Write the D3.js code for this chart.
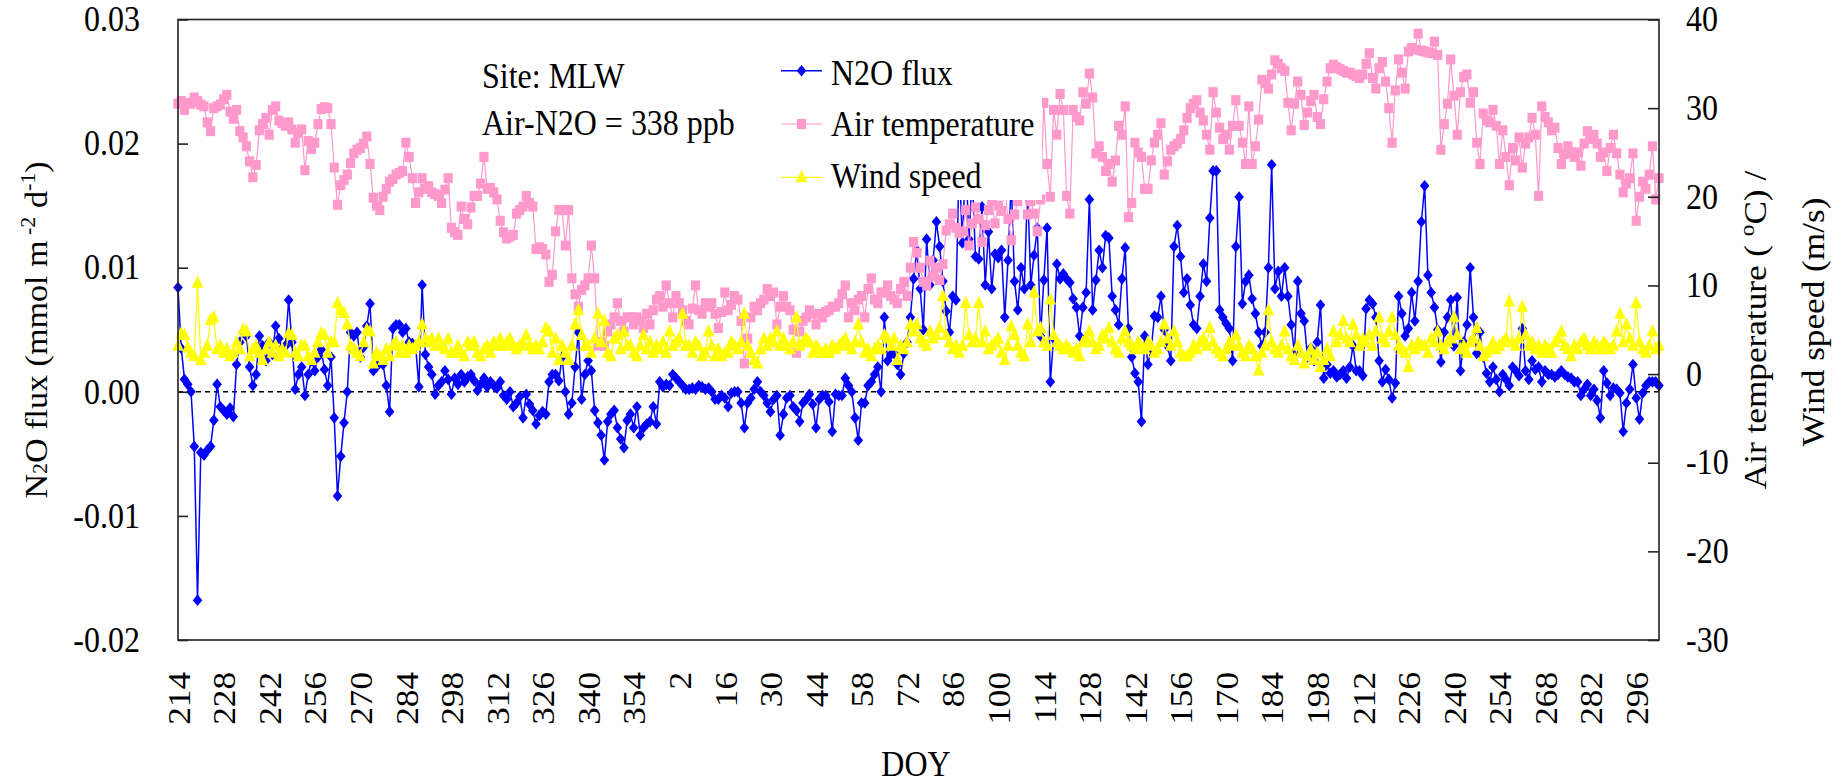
<!DOCTYPE html>
<html>
<head>
<meta charset="utf-8">
<script src="https://cdn.jsdelivr.net/npm/d3@7"></script>
<style>
  html, body { margin: 0; padding: 0; background: #fff; }
  svg { display: block; }
  svg text { font-family: "Liberation Serif", "Times New Roman", serif; }
</style>
</head>
<body>
<svg id="chart" width="1840" height="784"></svg>
<script>
// Day-of-year categories: DOY 214-366 of the first (leap) year, then DOY 1-303 of the next
const doyYear1 = d3.range(214, 367);
const doyYear2 = d3.range(1, 304);
const doy = doyYear1.concat(doyYear2);

// N2O flux (mmol m-2 d-1), one value per day
const n2oFlux = [
  0.0084,0.0035,0.001,0.0006,0,-0.0044,-0.0168,-0.0049,-0.0051,-0.0047,
  -0.0044,-0.0023,0.0006,-0.0012,-0.0015,-0.0018,-0.0013,-0.002,0.0022,0.004,
  0.0048,0.0045,0.002,0.0005,0.0014,0.0045,0.0037,0.0025,0.004,0.003,
  0.0053,0.0043,0.0035,0.0037,0.0074,0.004,0.0002,0.0014,0.002,-0.0003,
  0.0014,0.0025,0.0017,0.0028,0.0034,0.0018,0.0005,0.0028,-0.0021,-0.0084,
  -0.0052,-0.0025,0,0.0048,0.0045,0.0048,0.0028,0.0036,0.0053,0.0071,
  0.0017,0.002,0.0025,0.0022,0.0005,-0.0016,0.0051,0.0054,0.0054,0.0048,
  0.0051,0.004,0.0039,0.0037,0.0004,0.0086,0.003,0.002,0.0014,-0.0002,
  0.0005,0.0008,0.0017,0.001,-0.0002,0.0011,0.0006,0.0014,0.0008,0.0012,
  0.0014,0.0009,0.0001,0.0006,0.0011,0.0004,0.0008,0.0005,0.0003,0.0008,
  -0.0003,-0.0006,0,-0.0012,-0.0009,-0.0004,-0.0021,-0.0002,-0.001,-0.0015,
  -0.0026,-0.0019,-0.0016,-0.0018,0.0008,0.0014,0.0014,0.0009,0.0028,0,
  -0.0018,-0.0009,0.002,0.0048,-0.0006,0.0014,0.0025,0.0017,-0.0015,-0.0025,
  -0.0035,-0.0055,-0.0024,-0.0018,-0.0015,-0.0029,-0.0038,-0.0045,-0.0023,-0.0018,
  -0.0029,-0.0012,-0.0035,-0.0029,-0.0026,-0.0024,-0.0012,-0.0026,0.0008,0.0004,
  0.0006,0.0005,0.0014,0.0011,0.0008,0.0005,0.0002,0.0002,0.0003,0.0002,
  0.0005,0.0004,0.0002,0.0003,0,-0.0006,-0.0006,-0.0003,-0.0005,-0.0012,
  -0.0001,0,0,-0.0009,-0.0029,-0.0009,-0.0005,0.0002,0.0008,0,
  -0.0003,-0.0009,-0.0016,-0.0006,-0.0003,-0.0035,-0.0018,-0.0005,-0.0003,-0.0012,
  -0.0015,-0.0024,-0.0009,-0.0006,-0.0002,-0.001,-0.0029,-0.0006,-0.0003,-0.0003,
  -0.0008,-0.0032,-0.0002,-0.0003,-0.0003,0.0011,0.0005,0,-0.0021,-0.0039,
  -0.0009,-0.0009,0.0005,0.0008,0.0014,0.002,0,0.006,0.0025,0.003,
  0.0031,0.0022,0.0014,0.0031,0.004,0.006,0.0091,0.0114,0.0083,0.005,
  0.0123,0.0086,0.0106,0.0137,0.0117,0.0089,0.0065,0.0048,0.0077,0.0074,
  0.0185,0.012,0.019,0.0123,0.0175,0.0109,0.0107,0.0149,0.0086,0.0129,
  0.0083,0.0111,0.0108,0.0114,0.006,0.0106,0.017,0.0089,0.0066,0.01,
  0.0083,0.0165,0.0086,0.011,0.0132,0.0045,0.009,0.0132,0.0008,0.0043,
  0.0103,0.0091,0.0095,0.0091,0.0088,0.0075,0.0068,0.0045,0.0068,0.008,
  0.0155,0.0066,0.009,0.0114,0.01,0.0126,0.0124,0.0077,0.0066,0.0054,
  0.0091,0.0116,0.0051,0.0028,0.0015,0.0008,-0.0024,0.0045,0.0022,0.0035,
  0.0061,0.006,0.0077,0.005,0.0037,0.0025,0.0117,0.0134,0.0109,0.008,
  0.0091,0.007,0.0054,0.0051,0.0077,0.0103,0.0089,0.014,0.0178,0.0178,
  0.0066,0.006,0.0055,0.0051,0.0025,0.0117,0.0157,0.0071,0.0089,0.0094,
  0.0075,0.0063,0.0048,0.0037,0.0048,0.01,0.0183,0.0083,0.0097,0.0077,
  0.01,0.0077,0.0054,0.0031,0.0089,0.0063,0.0057,0.0028,0.0035,0.0025,
  0.004,0.007,0.0011,0.0022,0.0015,0.0017,0.0012,0.0014,0.0017,0.0011,
  0.002,0.0037,0.0017,0.0017,0.0013,0.0067,0.0074,0.0071,0.006,0.0025,
  0.0008,0.0018,0.001,-0.0005,0.0007,0.0077,0.0063,0.0045,0.0051,0.008,
  0.0057,0.0089,0.0137,0.0166,0.0094,0.008,0.0068,0.005,0.0024,0.0048,
  0.006,0.0074,0.0037,0.0076,0.0017,0.004,0.0054,0.01,0.006,0.0031,
  0.0048,0.0028,0.0015,0.0008,0.002,0.001,0,0.0014,0.001,0.0005,
  0.002,0.0017,0.0013,0.0051,0.0017,0.001,0.0025,0.0018,0.002,0.0008,
  0.0017,0.0014,0.0014,0.0012,0.0014,0.0017,0.0014,0.0012,0.0011,0.0008,
  0.0008,-0.0003,0.0002,0.0006,-0.0003,0.0002,-0.0007,-0.0021,0.0017,0.0007,
  -0.0003,0.0003,0.0002,-0.0001,-0.0032,-0.0009,0.0002,0.0022,-0.0005,-0.0022,
  -0.0001,0.0005,0.0008,0.0008,0.0008,0.0005
];

// Daily mean air temperature (deg C)
const airTemp = [
  30.5,30.8,29.8,30.6,30.5,31.2,30.8,30.4,30.2,28.4,
  27.4,30.0,30.2,30.4,31.0,31.5,29.6,28.8,29.8,27.4,
  26.7,25.7,24.0,22.2,23.6,27.5,28.2,28.9,27.0,29.8,
  30.2,28.6,28.3,28.0,28.4,27.6,26.1,27.2,27.6,23.0,
  26.3,25.4,26.1,28.2,29.9,30.1,30.0,28.2,23.3,19.1,
  21.3,21.9,22.5,23.8,24.9,25.3,25.5,26.0,26.8,23.7,
  19.9,19.0,18.5,20.0,20.9,21.7,22.0,22.5,22.7,22.9,
  26.1,24.5,22.1,19.3,20.5,22.1,20.9,21.2,20.5,20.3,
  20.1,19.3,20.8,22.1,16.5,16.0,15.7,18.9,17.5,16.9,
  18.8,20.1,20.1,21.5,24.5,20.9,21.0,20.5,19.7,17.3,
  16.0,15.3,15.5,15.7,18.1,18.5,18.9,20.1,19.3,18.9,
  14.1,14.3,14.1,13.5,10.4,11.2,16.1,18.5,18.5,14.5,
  18.5,10.8,9.0,7.6,9.5,10.0,10.8,14.5,10.8,3.2,
  3.6,3.2,4.8,5.6,6.4,8.0,6.0,4.8,6.4,6.4,
  5.6,6.4,6.0,5.2,6.8,5.6,7.2,8.4,8.8,7.6,
  10.0,8.0,6.4,8.8,8.0,7.2,6.0,5.6,7.4,10.0,
  7.2,6.8,8.0,7.6,8.0,6.8,5.2,7.0,9.2,7.2,
  7.8,8.8,8.4,6.0,1.2,4.0,6.4,7.6,7.2,8.0,
  8.4,9.6,8.8,9.2,5.6,7.6,8.8,7.6,7.2,5.0,
  2.4,4.8,6.0,6.4,7.2,6.8,5.6,6.8,6.4,7.0,
  7.2,7.6,7.6,8.0,9.0,10.0,6.4,8.0,7.2,8.4,
  8.8,6.4,9.6,10.8,8.4,8.0,9.2,9.2,10.0,8.8,
  8.4,8.0,9.6,10.4,8.8,12.0,14.9,13.7,12.0,10.4,
  10.0,12.8,11.0,12.0,10.6,12.4,16.2,16.9,18.1,16.5,
  15.9,16.1,18.5,14.5,17.0,18.8,17.5,14.9,16.8,18.5,
  19.5,17.0,19.0,18.4,21.0,17.5,15.1,18.0,19.5,22.0,
  20.5,18.0,19.5,18.1,16.1,19.7,30.6,23.7,20.0,29.8,
  27.0,31.6,29.8,20.1,18.1,29.8,29.0,28.6,31.8,30.5,
  33.9,31.2,24.9,25.7,24.5,22.9,23.7,21.7,24.1,28.0,
  27.0,30.2,17.7,19.3,26.1,25.0,24.5,20.9,20.9,24.1,
  26.1,27.0,28.3,22.5,24.0,25.3,25.7,26.0,26.5,27.5,
  28.9,30.0,30.5,30.9,29.5,28.6,27.0,25.3,31.8,29.5,
  27.8,26.5,27.0,25.3,28.0,30.9,28.0,26.1,23.7,30.2,
  23.7,25.7,28.7,33.2,32.8,32.2,33.8,35.4,35.0,34.5,
  34.2,30.6,27.5,30.5,33.0,31.5,28.1,29.5,30.8,31.5,
  29.0,28.2,31.0,33.0,34.5,34.9,34.6,34.4,34.2,34.0,
  34.0,33.8,33.6,33.4,33.8,35.0,36.2,33.4,32.2,34.5,
  35.2,33.0,30.0,26.1,32.0,35.5,34.0,32.2,36.4,36.8,
  36.6,38.4,36.5,36.4,36.3,36.2,37.5,36.0,25.3,28.2,
  30.5,35.5,31.4,27.0,31.8,33.5,33.8,30.6,31.8,26.1,
  23.7,29.4,28.6,28.4,29.8,28.0,23.7,27.5,24.5,21.3,
  25.5,24.1,26.7,23.3,26.0,26.7,28.9,27.0,20.1,30.2,
  29.0,28.4,27.5,27.8,25.5,23.7,24.8,25.7,25.0,24.5,
  25.0,23.5,26.0,27.4,26.5,27.0,26.0,24.5,25.0,22.9,
  25.5,27.0,24.9,22.5,20.5,21.5,22.1,24.9,17.3,20.0,
  21.7,20.9,22.5,25.7,19.7,22.1
];

// Daily mean wind speed (m/s)
const windSpeed = [
  3.2,4.6,4.4,3.0,2.4,2.0,10.3,1.6,2.4,3.2,
  6.1,6.4,2.8,3.2,2.4,2.8,2.0,2.4,3.6,2.8,
  5.0,4.8,2.0,2.8,3.2,2.4,1.6,2.8,3.6,2.4,
  3.2,2.0,2.8,2.4,4.6,4.4,2.4,2.0,3.2,3.2,
  2.0,1.6,2.4,3.6,4.6,4.4,2.4,3.6,3.6,8.0,
  7.2,6.9,5.6,3.2,2.8,2.4,2.0,3.6,5.0,4.8,
  1.2,2.4,2.0,1.6,2.8,2.0,3.2,3.6,2.4,3.2,
  2.4,3.2,2.8,3.2,3.6,5.6,4.0,3.6,4.0,3.2,
  4.0,3.2,2.8,4.0,2.4,2.4,3.2,2.4,2.0,3.6,
  3.2,3.6,2.4,2.0,2.8,3.2,2.4,3.6,3.2,4.0,
  3.2,3.6,4.0,3.2,2.8,3.2,3.6,4.4,3.2,2.8,
  3.2,2.8,3.6,5.2,4.8,2.4,4.0,1.6,3.2,2.4,
  1.6,3.2,5.6,7.2,4.4,3.2,3.2,2.4,4.0,6.8,
  3.6,6.0,2.4,2.0,4.0,4.4,2.8,4.8,3.2,3.2,
  2.4,2.0,3.2,4.4,2.8,3.6,2.4,3.2,2.8,3.6,
  2.4,4.8,3.2,3.6,4.0,6.8,3.2,3.2,2.4,3.6,
  3.2,2.0,2.4,4.8,3.2,2.0,2.8,2.0,2.4,2.4,
  3.6,3.2,2.8,3.6,6.8,3.2,2.4,1.6,1.2,2.8,
  4.0,3.2,4.0,3.6,4.8,3.2,4.0,3.2,2.8,3.6,
  6.4,3.2,3.6,4.0,3.6,2.4,3.2,2.8,2.4,2.8,
  2.4,3.2,2.8,3.2,3.6,4.0,3.2,2.8,3.6,5.6,
  3.6,2.4,2.8,2.0,2.8,3.2,2.8,4.4,4.0,3.2,
  4.0,1.6,3.2,2.8,3.6,5.6,4.8,5.6,4.0,3.6,
  3.2,4.8,4.0,4.4,5.2,8.8,4.4,3.6,2.8,3.2,
  2.4,3.2,8.0,4.4,3.6,4.0,8.0,3.6,4.8,2.8,
  3.2,3.6,4.0,2.4,1.6,3.2,5.4,4.4,3.2,2.4,
  2.0,5.6,3.6,9.2,4.8,5.2,3.6,3.2,8.4,4.4,
  3.6,3.2,2.8,3.2,2.8,2.4,2.8,2.0,3.6,4.0,
  4.8,3.6,2.8,3.2,4.4,4.0,5.2,3.6,2.8,2.4,
  4.0,4.8,3.6,3.2,2.8,3.6,3.2,2.8,3.6,3.2,
  2.4,2.8,3.6,5.6,4.0,3.2,4.8,3.6,2.4,2.0,
  2.0,2.4,3.2,2.8,3.6,4.0,3.2,5.2,3.6,2.8,
  2.4,2.0,2.8,3.6,3.2,4.4,3.2,2.4,2.0,3.2,
  2.8,2.0,0.4,2.4,3.2,7.2,3.6,2.8,2.4,3.2,
  4.8,2.8,2.0,1.6,3.2,2.4,1.2,2.0,2.8,1.6,
  2.4,0.8,1.6,2.8,2.0,4.8,3.6,4.4,6.0,4.0,
  3.6,5.6,4.4,3.2,4.0,3.6,4.4,3.2,4.8,6.4,
  4.0,3.6,4.8,6.4,4.4,3.2,2.8,2.4,0.8,3.2,
  2.8,3.6,3.2,3.2,2.4,4.0,3.6,4.8,3.2,2.8,
  3.6,4.0,6.4,4.4,2.8,3.2,2.4,3.6,4.0,5.2,
  3.2,2.0,2.4,2.8,3.6,2.8,3.2,3.6,4.0,8.2,
  3.6,3.2,4.0,7.6,4.4,3.2,3.6,2.8,3.2,2.4,
  3.2,2.8,2.4,3.6,4.0,4.8,3.2,2.8,2.0,3.2,
  2.8,3.6,4.0,3.2,2.8,3.6,3.2,2.8,3.6,3.2,
  2.8,3.2,4.8,6.8,3.6,5.6,4.0,3.2,8.0,3.6,
  2.8,2.4,3.2,4.8,2.8,3.2
];

// Axis ticks
const fluxTicks = [-0.02, -0.01, 0, 0.01, 0.02, 0.03];
const metTicks = [-30, -20, -10, 0, 10, 20, 30, 40];
const doyLabelStep = 14;

// Legend entries
const seriesNames = ["N2O flux", "Air temperature", "Wind speed"];
const siteNotes = ["Site: MLW", "Air-N2O = 338 ppb"];

// ---------------------------------------------------------------
const W = 1840, H = 784;
const plot = { left: 178, right: 1659, top: 19.5, bottom: 640 };
const FONT = '"Liberation Serif", "Times New Roman", serif';
const FS = 32;      // base font size
const SY = 1.1;     // vertical text stretch

const colors = { flux: "#0000FF", temp: "#FF99CC", wind: "#FFFF00" };

const svg = d3.select("#chart");
svg.append("rect").attr("width", W).attr("height", H).attr("fill", "#fff");

const x = d3.scaleLinear().domain([0, doy.length - 1]).range([plot.left, plot.right]);
const yFlux = d3.scaleLinear().domain([-0.02, 0.03]).range([plot.bottom, plot.top]);
const yMet = d3.scaleLinear().domain([-30, 40]).range([plot.bottom, plot.top]);

// Marker shapes
const diamond = { draw(ctx) { const w = 4.8, h = 5.8; ctx.moveTo(0, -h); ctx.lineTo(w, 0); ctx.lineTo(0, h); ctx.lineTo(-w, 0); ctx.closePath(); } };
const square = { draw(ctx) { const w = 4.6, h = 5.0; ctx.rect(-w, -h, 2 * w, 2 * h); } };
const triangle = { draw(ctx) { const w = 5.8, t = 7.4, b = 5.0; ctx.moveTo(0, -t); ctx.lineTo(w, b); ctx.lineTo(-w, b); ctx.closePath(); } };

// Zero reference line
svg.append("line")
  .attr("x1", plot.left).attr("x2", plot.right)
  .attr("y1", yFlux(0)).attr("y2", yFlux(0))
  .attr("stroke", "#000").attr("stroke-width", 1.5)
  .attr("stroke-dasharray", "5,4");

function drawSeries(values, yScale, color, shape, lw) {
  const g = svg.append("g");
  g.append("path")
    .datum(values)
    .attr("fill", "none")
    .attr("stroke", color)
    .attr("stroke-width", lw)
    .attr("stroke-linejoin", "round")
    .attr("d", d3.line().x((d, i) => x(i)).y(d => yScale(d)));
  g.selectAll("path.mk")
    .data(values)
    .join("path")
    .attr("class", "mk")
    .attr("fill", color)
    .attr("transform", (d, i) => `translate(${x(i)},${yScale(d)})`)
    .attr("d", d3.symbol(shape));
}

drawSeries(n2oFlux, yFlux, colors.flux, diamond, 1.5);
drawSeries(airTemp, yMet, colors.temp, square, 1.2);
drawSeries(windSpeed, yMet, colors.wind, triangle, 1.2);

// Plot frame
svg.append("rect")
  .attr("x", plot.left).attr("y", plot.top)
  .attr("width", plot.right - plot.left).attr("height", plot.bottom - plot.top)
  .attr("fill", "none").attr("stroke", "#222").attr("stroke-width", 1.6);

function styleAxis(g) {
  g.attr("font-family", FONT).attr("font-size", FS);
  g.select(".domain").remove();
  g.selectAll(".tick line").attr("stroke", "#222").attr("stroke-width", 1.6);
  g.selectAll(".tick text")
    .attr("fill", "#000")
    .attr("font-size", FS)
    .style("font-family", FONT);
}

// Left axis (N2O flux)
const gL = svg.append("g")
  .attr("transform", `translate(${plot.left},0)`)
  .call(d3.axisLeft(yFlux).tickValues(fluxTicks).tickSize(-10).tickPadding(38)
    .tickFormat(d => d.toFixed(2)));
styleAxis(gL);
gL.selectAll(".tick text").attr("transform", `scale(1,${SY})`);

// Right axis (air temperature / wind speed)
const gR = svg.append("g")
  .attr("transform", `translate(${plot.right},0)`)
  .call(d3.axisRight(yMet).tickValues(metTicks).tickSize(-11).tickPadding(27)
    .tickFormat(d => String(d)));
styleAxis(gR);
gR.selectAll(".tick text").attr("transform", `scale(1,${SY})`);

// Bottom axis (DOY), vertical labels
const labelIdx = d3.range(0, doy.length, doyLabelStep);
const gB = svg.append("g")
  .attr("transform", `translate(0,${plot.bottom})`)
  .call(d3.axisBottom(x).tickValues(labelIdx).tickSize(0).tickFormat(i => doy[i]));
styleAxis(gB);
gB.selectAll(".tick text")
  .attr("x", 0).attr("y", 0).attr("dy", "0.35em")
  .attr("text-anchor", "end")
  .attr("transform", `translate(0,32) scale(1,${SY}) rotate(-90)`);

// Text helper
function addText(parent, tx, ty, rot, anchor, size) {
  return parent.append("text")
    .attr("transform", `translate(${tx},${ty}) scale(1,${SY})` + (rot ? ` rotate(${rot})` : ""))
    .attr("text-anchor", anchor || "start")
    .attr("font-size", size || FS)
    .style("font-family", FONT)
    .attr("fill", "#000");
}

// Axis titles
const tL = addText(svg, 37, 330, -90, "middle", 31).attr("dy", "0.33em");
tL.append("tspan").text("N");
tL.append("tspan").attr("font-size", 20).text("2");
tL.append("tspan").text("O flux (mmol m");
tL.append("tspan").attr("font-size", 20).attr("dy", -12).text(" -2");
tL.append("tspan").attr("dy", 12).text(" d");
tL.append("tspan").attr("font-size", 20).attr("dy", -12).text("-1");
tL.append("tspan").attr("dy", 12).text(")");

const tR1 = addText(svg, 1755, 330, -90, "middle").attr("dy", "0.33em");
tR1.append("tspan").text("Air temperature ( ");
tR1.append("tspan").attr("font-size", 21).attr("dy", -12).text("o");
tR1.append("tspan").attr("dy", 12).text("C) /");

addText(svg, 1813, 322, -90, "middle").attr("dy", "0.33em").text("Wind speed (m/s)");

addText(svg, 916, 776, 0, "middle").text("DOY");

// Site notes
addText(svg, 482, 88, 0, "start").text(siteNotes[0]);
addText(svg, 482, 135, 0, "start").text(siteNotes[1]);

// Legend
const legend = svg.append("g");
legend.append("rect")
  .attr("x", 772).attr("y", 40).attr("width", 270).attr("height", 160)
  .attr("fill", "#fff");
const legendRows = [
  { name: seriesNames[0], color: colors.flux, shape: diamond, ly: 70.7, ty: 85, lw: 1.5 },
  { name: seriesNames[1], color: colors.temp, shape: square, ly: 124, ty: 136, lw: 1.2 },
  { name: seriesNames[2], color: colors.wind, shape: triangle, ly: 177.3, ty: 188, lw: 1.2 }
];
legendRows.forEach(r => {
  legend.append("line")
    .attr("x1", 781).attr("x2", 822).attr("y1", r.ly).attr("y2", r.ly)
    .attr("stroke", r.color).attr("stroke-width", r.lw);
  legend.append("path")
    .attr("transform", `translate(801.5,${r.ly})`)
    .attr("fill", r.color)
    .attr("d", d3.symbol(r.shape));
  addText(legend, 831, r.ty, 0, "start").text(r.name);
});
</script>
</body>
</html>
